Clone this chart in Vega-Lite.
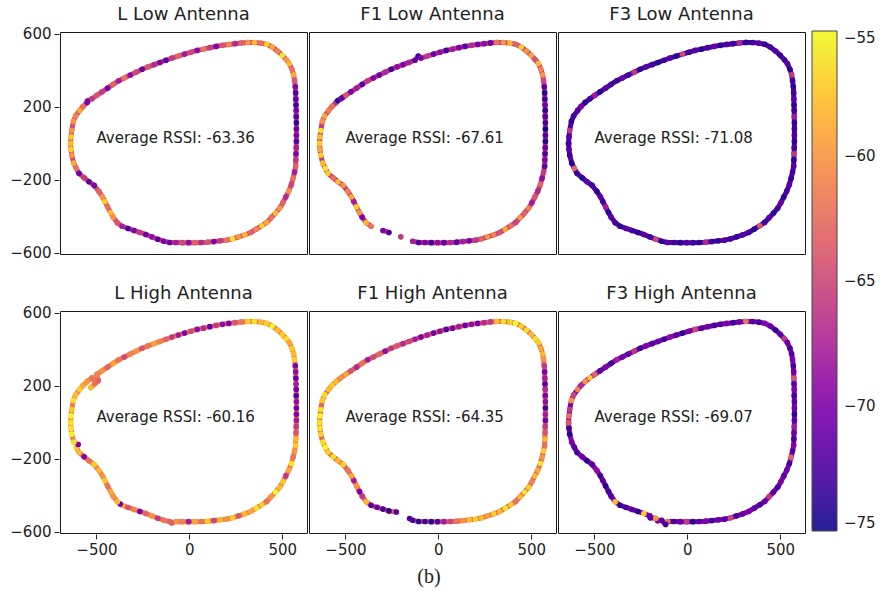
{
"$schema":"https://vega.github.io/schema/vega-lite/v6.json",
"padding":{"left":9,"top":5,"right":5,"bottom":5},
"title":{"text":"(b)","orient":"bottom","anchor":"middle","font":"Liberation Serif","fontSize":20,"fontWeight":"normal","color":"#222","offset":10,"dx":-14},
"data":{"values":[
{"p":"L Low Antenna","x":-639,"y":0,"r":-58},{"p":"L Low Antenna","x":-637,"y":35,"r":-57},{"p":"L Low Antenna","x":-633,"y":70,"r":-60},{"p":"L Low Antenna","x":-624,"y":120,"r":-60},{"p":"L Low Antenna","x":-612,"y":150,"r":-61},{"p":"L Low Antenna","x":-590,"y":180,"r":-59},{"p":"L Low Antenna","x":-572,"y":202,"r":-62},{"p":"L Low Antenna","x":-550,"y":224,"r":-70},{"p":"L Low Antenna","x":-548,"y":232,"r":-70},{"p":"L Low Antenna","x":-524,"y":244,"r":-66},{"p":"L Low Antenna","x":-498,"y":263,"r":-64},
{"p":"L Low Antenna","x":-470,"y":282,"r":-66},{"p":"L Low Antenna","x":-440,"y":302,"r":-70},{"p":"L Low Antenna","x":-410,"y":323,"r":-63},{"p":"L Low Antenna","x":-380,"y":343,"r":-68},{"p":"L Low Antenna","x":-350,"y":358,"r":-62},{"p":"L Low Antenna","x":-318,"y":374,"r":-69},{"p":"L Low Antenna","x":-286,"y":390,"r":-65},{"p":"L Low Antenna","x":-254,"y":406,"r":-71},{"p":"L Low Antenna","x":-222,"y":419,"r":-64},{"p":"L Low Antenna","x":-190,"y":431,"r":-67},
{"p":"L Low Antenna","x":-158,"y":443,"r":-70},{"p":"L Low Antenna","x":-126,"y":455,"r":-72},{"p":"L Low Antenna","x":-94,"y":467,"r":-66},{"p":"L Low Antenna","x":-60,"y":478,"r":-63},{"p":"L Low Antenna","x":-26,"y":489,"r":-68},{"p":"L Low Antenna","x":8,"y":499,"r":-65},{"p":"L Low Antenna","x":42,"y":509,"r":-69},{"p":"L Low Antenna","x":76,"y":516,"r":-62},{"p":"L Low Antenna","x":110,"y":524,"r":-66},{"p":"L Low Antenna","x":144,"y":531,"r":-70},
{"p":"L Low Antenna","x":178,"y":537,"r":-64},{"p":"L Low Antenna","x":212,"y":542,"r":-61},{"p":"L Low Antenna","x":246,"y":546,"r":-67},{"p":"L Low Antenna","x":280,"y":550,"r":-63},{"p":"L Low Antenna","x":315,"y":553,"r":-60},{"p":"L Low Antenna","x":350,"y":552,"r":-58},{"p":"L Low Antenna","x":385,"y":549,"r":-62},{"p":"L Low Antenna","x":416,"y":543,"r":-57},{"p":"L Low Antenna","x":446,"y":528,"r":-59},{"p":"L Low Antenna","x":474,"y":506,"r":-61},
{"p":"L Low Antenna","x":500,"y":482,"r":-56},{"p":"L Low Antenna","x":522,"y":458,"r":-60},{"p":"L Low Antenna","x":538,"y":437,"r":-58},{"p":"L Low Antenna","x":552,"y":406,"r":-62},{"p":"L Low Antenna","x":561,"y":375,"r":-59},{"p":"L Low Antenna","x":566,"y":344,"r":-64},{"p":"L Low Antenna","x":570,"y":310,"r":-70},{"p":"L Low Antenna","x":572,"y":276,"r":-72},{"p":"L Low Antenna","x":573,"y":242,"r":-71},{"p":"L Low Antenna","x":574,"y":210,"r":-73},
{"p":"L Low Antenna","x":575,"y":180,"r":-70},{"p":"L Low Antenna","x":575,"y":146,"r":-72},{"p":"L Low Antenna","x":576,"y":112,"r":-74},{"p":"L Low Antenna","x":576,"y":78,"r":-71},{"p":"L Low Antenna","x":576,"y":44,"r":-70},{"p":"L Low Antenna","x":576,"y":10,"r":-72},{"p":"L Low Antenna","x":575,"y":-24,"r":-68},{"p":"L Low Antenna","x":574,"y":-58,"r":-70},{"p":"L Low Antenna","x":573,"y":-92,"r":-66},{"p":"L Low Antenna","x":572,"y":-126,"r":-63},
{"p":"L Low Antenna","x":566,"y":-158,"r":-68},{"p":"L Low Antenna","x":558,"y":-192,"r":-62},{"p":"L Low Antenna","x":549,"y":-226,"r":-65},{"p":"L Low Antenna","x":535,"y":-262,"r":-60},{"p":"L Low Antenna","x":519,"y":-294,"r":-67},{"p":"L Low Antenna","x":503,"y":-326,"r":-63},{"p":"L Low Antenna","x":486,"y":-356,"r":-60},{"p":"L Low Antenna","x":464,"y":-382,"r":-58},{"p":"L Low Antenna","x":440,"y":-408,"r":-62},{"p":"L Low Antenna","x":416,"y":-434,"r":-59},
{"p":"L Low Antenna","x":390,"y":-452,"r":-57},{"p":"L Low Antenna","x":360,"y":-471,"r":-61},{"p":"L Low Antenna","x":330,"y":-489,"r":-63},{"p":"L Low Antenna","x":298,"y":-502,"r":-58},{"p":"L Low Antenna","x":265,"y":-513,"r":-60},{"p":"L Low Antenna","x":232,"y":-524,"r":-56},{"p":"L Low Antenna","x":200,"y":-531,"r":-62},{"p":"L Low Antenna","x":166,"y":-535,"r":-66},{"p":"L Low Antenna","x":132,"y":-539,"r":-70},{"p":"L Low Antenna","x":98,"y":-542,"r":-64},
{"p":"L Low Antenna","x":64,"y":-544,"r":-67},{"p":"L Low Antenna","x":30,"y":-545,"r":-63},{"p":"L Low Antenna","x":-4,"y":-545,"r":-69},{"p":"L Low Antenna","x":-38,"y":-545,"r":-65},{"p":"L Low Antenna","x":-72,"y":-544,"r":-68},{"p":"L Low Antenna","x":-106,"y":-544,"r":-71},{"p":"L Low Antenna","x":-138,"y":-537,"r":-70},{"p":"L Low Antenna","x":-170,"y":-526,"r":-72},{"p":"L Low Antenna","x":-202,"y":-513,"r":-69},{"p":"L Low Antenna","x":-234,"y":-500,"r":-71},
{"p":"L Low Antenna","x":-266,"y":-489,"r":-66},{"p":"L Low Antenna","x":-298,"y":-478,"r":-70},{"p":"L Low Antenna","x":-330,"y":-467,"r":-73},{"p":"L Low Antenna","x":-362,"y":-455,"r":-68},{"p":"L Low Antenna","x":-388,"y":-436,"r":-64},{"p":"L Low Antenna","x":-410,"y":-405,"r":-60},{"p":"L Low Antenna","x":-424,"y":-380,"r":-58},{"p":"L Low Antenna","x":-440,"y":-349,"r":-62},{"p":"L Low Antenna","x":-455,"y":-319,"r":-57},{"p":"L Low Antenna","x":-468,"y":-293,"r":-60},
{"p":"L Low Antenna","x":-487,"y":-264,"r":-63},{"p":"L Low Antenna","x":-512,"y":-231,"r":-70},{"p":"L Low Antenna","x":-540,"y":-211,"r":-72},{"p":"L Low Antenna","x":-566,"y":-189,"r":-66},{"p":"L Low Antenna","x":-594,"y":-165,"r":-71},{"p":"L Low Antenna","x":-608,"y":-137,"r":-62},{"p":"L Low Antenna","x":-622,"y":-109,"r":-59},{"p":"L Low Antenna","x":-633,"y":-65,"r":-60},{"p":"L Low Antenna","x":-637,"y":-33,"r":-57},{"p":"L Low Antenna","x":-639,"y":-2,"r":-58},

{"p":"F1 Low Antenna","x":-639,"y":0,"r":-57},{"p":"F1 Low Antenna","x":-637,"y":35,"r":-58},{"p":"F1 Low Antenna","x":-633,"y":70,"r":-56},{"p":"F1 Low Antenna","x":-624,"y":120,"r":-60},{"p":"F1 Low Antenna","x":-612,"y":150,"r":-59},{"p":"F1 Low Antenna","x":-590,"y":180,"r":-61},{"p":"F1 Low Antenna","x":-572,"y":202,"r":-62},{"p":"F1 Low Antenna","x":-550,"y":224,"r":-66},{"p":"F1 Low Antenna","x":-541,"y":234,"r":-74},{"p":"F1 Low Antenna","x":-524,"y":244,"r":-70},{"p":"F1 Low Antenna","x":-514,"y":252,"r":-72},{"p":"F1 Low Antenna","x":-498,"y":263,"r":-64},
{"p":"F1 Low Antenna","x":-470,"y":282,"r":-70},{"p":"F1 Low Antenna","x":-440,"y":302,"r":-68},{"p":"F1 Low Antenna","x":-410,"y":323,"r":-72},{"p":"F1 Low Antenna","x":-380,"y":343,"r":-66},{"p":"F1 Low Antenna","x":-350,"y":358,"r":-70},{"p":"F1 Low Antenna","x":-318,"y":374,"r":-71},{"p":"F1 Low Antenna","x":-286,"y":390,"r":-67},{"p":"F1 Low Antenna","x":-254,"y":406,"r":-73},{"p":"F1 Low Antenna","x":-222,"y":419,"r":-69},{"p":"F1 Low Antenna","x":-190,"y":431,"r":-70},
{"p":"F1 Low Antenna","x":-158,"y":443,"r":-68},{"p":"F1 Low Antenna","x":-126,"y":455,"r":-72},{"p":"F1 Low Antenna","x":-108,"y":478,"r":-73},{"p":"F1 Low Antenna","x":-94,"y":467,"r":-70},{"p":"F1 Low Antenna","x":-60,"y":478,"r":-66},{"p":"F1 Low Antenna","x":-26,"y":489,"r":-71},{"p":"F1 Low Antenna","x":8,"y":499,"r":-69},{"p":"F1 Low Antenna","x":42,"y":509,"r":-73},{"p":"F1 Low Antenna","x":76,"y":516,"r":-68},{"p":"F1 Low Antenna","x":110,"y":524,"r":-70},{"p":"F1 Low Antenna","x":144,"y":531,"r":-72},
{"p":"F1 Low Antenna","x":178,"y":537,"r":-67},{"p":"F1 Low Antenna","x":212,"y":542,"r":-70},{"p":"F1 Low Antenna","x":246,"y":546,"r":-69},{"p":"F1 Low Antenna","x":280,"y":550,"r":-71},{"p":"F1 Low Antenna","x":315,"y":553,"r":-62},{"p":"F1 Low Antenna","x":350,"y":552,"r":-60},{"p":"F1 Low Antenna","x":385,"y":549,"r":-58},{"p":"F1 Low Antenna","x":416,"y":543,"r":-63},{"p":"F1 Low Antenna","x":446,"y":528,"r":-57},{"p":"F1 Low Antenna","x":474,"y":506,"r":-60},
{"p":"F1 Low Antenna","x":500,"y":482,"r":-59},{"p":"F1 Low Antenna","x":522,"y":458,"r":-64},{"p":"F1 Low Antenna","x":538,"y":437,"r":-58},{"p":"F1 Low Antenna","x":552,"y":406,"r":-61},{"p":"F1 Low Antenna","x":561,"y":375,"r":-60},{"p":"F1 Low Antenna","x":566,"y":344,"r":-65},{"p":"F1 Low Antenna","x":570,"y":310,"r":-72},{"p":"F1 Low Antenna","x":572,"y":276,"r":-74},{"p":"F1 Low Antenna","x":573,"y":242,"r":-73},{"p":"F1 Low Antenna","x":574,"y":210,"r":-71},
{"p":"F1 Low Antenna","x":575,"y":180,"r":-74},{"p":"F1 Low Antenna","x":575,"y":146,"r":-72},{"p":"F1 Low Antenna","x":576,"y":112,"r":-73},{"p":"F1 Low Antenna","x":576,"y":78,"r":-75},{"p":"F1 Low Antenna","x":576,"y":44,"r":-72},{"p":"F1 Low Antenna","x":576,"y":10,"r":-74},{"p":"F1 Low Antenna","x":575,"y":-24,"r":-71},{"p":"F1 Low Antenna","x":574,"y":-58,"r":-73},{"p":"F1 Low Antenna","x":573,"y":-92,"r":-70},{"p":"F1 Low Antenna","x":572,"y":-126,"r":-72},
{"p":"F1 Low Antenna","x":566,"y":-158,"r":-66},{"p":"F1 Low Antenna","x":558,"y":-192,"r":-69},{"p":"F1 Low Antenna","x":549,"y":-226,"r":-63},{"p":"F1 Low Antenna","x":535,"y":-262,"r":-67},{"p":"F1 Low Antenna","x":519,"y":-294,"r":-64},{"p":"F1 Low Antenna","x":503,"y":-326,"r":-68},{"p":"F1 Low Antenna","x":486,"y":-356,"r":-61},{"p":"F1 Low Antenna","x":464,"y":-382,"r":-63},{"p":"F1 Low Antenna","x":440,"y":-408,"r":-60},{"p":"F1 Low Antenna","x":416,"y":-434,"r":-65},
{"p":"F1 Low Antenna","x":390,"y":-452,"r":-62},{"p":"F1 Low Antenna","x":360,"y":-471,"r":-59},{"p":"F1 Low Antenna","x":330,"y":-489,"r":-64},{"p":"F1 Low Antenna","x":298,"y":-502,"r":-61},{"p":"F1 Low Antenna","x":265,"y":-513,"r":-60},{"p":"F1 Low Antenna","x":232,"y":-524,"r":-63},{"p":"F1 Low Antenna","x":200,"y":-531,"r":-66},{"p":"F1 Low Antenna","x":166,"y":-535,"r":-70},{"p":"F1 Low Antenna","x":132,"y":-539,"r":-68},{"p":"F1 Low Antenna","x":98,"y":-542,"r":-72},
{"p":"F1 Low Antenna","x":64,"y":-544,"r":-67},{"p":"F1 Low Antenna","x":30,"y":-545,"r":-71},{"p":"F1 Low Antenna","x":-4,"y":-545,"r":-69},{"p":"F1 Low Antenna","x":-38,"y":-545,"r":-73},{"p":"F1 Low Antenna","x":-72,"y":-544,"r":-70},{"p":"F1 Low Antenna","x":-106,"y":-544,"r":-72},{"p":"F1 Low Antenna","x":-138,"y":-537,"r":-68},{"p":"F1 Low Antenna","x":null,"y":null,"r":null},{"p":"F1 Low Antenna","x":-202,"y":-513,"r":-66},{"p":"F1 Low Antenna","x":null,"y":null,"r":null},
{"p":"F1 Low Antenna","x":-266,"y":-489,"r":-73},{"p":"F1 Low Antenna","x":-298,"y":-478,"r":-70},{"p":"F1 Low Antenna","x":null,"y":null,"r":null},{"p":"F1 Low Antenna","x":-362,"y":-455,"r":-62},{"p":"F1 Low Antenna","x":-388,"y":-436,"r":-58},{"p":"F1 Low Antenna","x":-410,"y":-405,"r":-70},{"p":"F1 Low Antenna","x":-424,"y":-380,"r":-60},{"p":"F1 Low Antenna","x":-440,"y":-349,"r":-57},{"p":"F1 Low Antenna","x":-455,"y":-319,"r":-68},{"p":"F1 Low Antenna","x":-468,"y":-293,"r":-59},
{"p":"F1 Low Antenna","x":-487,"y":-264,"r":-61},{"p":"F1 Low Antenna","x":-512,"y":-231,"r":-60},{"p":"F1 Low Antenna","x":-540,"y":-211,"r":-58},{"p":"F1 Low Antenna","x":-566,"y":-189,"r":-62},{"p":"F1 Low Antenna","x":-594,"y":-165,"r":-57},{"p":"F1 Low Antenna","x":-608,"y":-137,"r":-56},{"p":"F1 Low Antenna","x":-622,"y":-109,"r":-58},{"p":"F1 Low Antenna","x":-633,"y":-65,"r":-57},{"p":"F1 Low Antenna","x":-637,"y":-33,"r":-59},{"p":"F1 Low Antenna","x":-639,"y":-2,"r":-57},

{"p":"F3 Low Antenna","x":-639,"y":0,"r":-73},{"p":"F3 Low Antenna","x":-637,"y":35,"r":-72},{"p":"F3 Low Antenna","x":-633,"y":70,"r":-66},{"p":"F3 Low Antenna","x":-624,"y":120,"r":-74},{"p":"F3 Low Antenna","x":-612,"y":150,"r":-73},{"p":"F3 Low Antenna","x":-590,"y":180,"r":-72},{"p":"F3 Low Antenna","x":-572,"y":202,"r":-70},{"p":"F3 Low Antenna","x":-550,"y":224,"r":-74},{"p":"F3 Low Antenna","x":-524,"y":244,"r":-73},{"p":"F3 Low Antenna","x":-498,"y":263,"r":-68},
{"p":"F3 Low Antenna","x":-470,"y":282,"r":-74},{"p":"F3 Low Antenna","x":-440,"y":302,"r":-72},{"p":"F3 Low Antenna","x":-410,"y":323,"r":-73},{"p":"F3 Low Antenna","x":-380,"y":343,"r":-74},{"p":"F3 Low Antenna","x":-350,"y":358,"r":-71},{"p":"F3 Low Antenna","x":-318,"y":374,"r":-73},{"p":"F3 Low Antenna","x":-286,"y":390,"r":-66},{"p":"F3 Low Antenna","x":-254,"y":406,"r":-74},{"p":"F3 Low Antenna","x":-222,"y":419,"r":-72},{"p":"F3 Low Antenna","x":-190,"y":431,"r":-73},
{"p":"F3 Low Antenna","x":-158,"y":443,"r":-74},{"p":"F3 Low Antenna","x":-126,"y":455,"r":-73},{"p":"F3 Low Antenna","x":-94,"y":467,"r":-72},{"p":"F3 Low Antenna","x":-60,"y":478,"r":-74},{"p":"F3 Low Antenna","x":-26,"y":489,"r":-65},{"p":"F3 Low Antenna","x":8,"y":499,"r":-73},{"p":"F3 Low Antenna","x":42,"y":509,"r":-72},{"p":"F3 Low Antenna","x":76,"y":516,"r":-74},{"p":"F3 Low Antenna","x":110,"y":524,"r":-73},{"p":"F3 Low Antenna","x":144,"y":531,"r":-71},
{"p":"F3 Low Antenna","x":178,"y":537,"r":-74},{"p":"F3 Low Antenna","x":212,"y":542,"r":-72},{"p":"F3 Low Antenna","x":246,"y":546,"r":-73},{"p":"F3 Low Antenna","x":280,"y":550,"r":-67},{"p":"F3 Low Antenna","x":315,"y":553,"r":-74},{"p":"F3 Low Antenna","x":350,"y":552,"r":-73},{"p":"F3 Low Antenna","x":385,"y":549,"r":-72},{"p":"F3 Low Antenna","x":416,"y":543,"r":-74},{"p":"F3 Low Antenna","x":446,"y":528,"r":-73},{"p":"F3 Low Antenna","x":474,"y":506,"r":-72},
{"p":"F3 Low Antenna","x":500,"y":482,"r":-74},{"p":"F3 Low Antenna","x":522,"y":458,"r":-73},{"p":"F3 Low Antenna","x":538,"y":437,"r":-72},{"p":"F3 Low Antenna","x":552,"y":406,"r":-74},{"p":"F3 Low Antenna","x":561,"y":375,"r":-66},{"p":"F3 Low Antenna","x":566,"y":344,"r":-73},{"p":"F3 Low Antenna","x":570,"y":310,"r":-74},{"p":"F3 Low Antenna","x":572,"y":276,"r":-73},{"p":"F3 Low Antenna","x":573,"y":242,"r":-72},{"p":"F3 Low Antenna","x":574,"y":210,"r":-74},
{"p":"F3 Low Antenna","x":575,"y":180,"r":-73},{"p":"F3 Low Antenna","x":575,"y":146,"r":-68},{"p":"F3 Low Antenna","x":576,"y":112,"r":-74},{"p":"F3 Low Antenna","x":576,"y":78,"r":-73},{"p":"F3 Low Antenna","x":576,"y":44,"r":-72},{"p":"F3 Low Antenna","x":576,"y":10,"r":-74},{"p":"F3 Low Antenna","x":575,"y":-24,"r":-73},{"p":"F3 Low Antenna","x":574,"y":-58,"r":-66},{"p":"F3 Low Antenna","x":573,"y":-92,"r":-74},{"p":"F3 Low Antenna","x":572,"y":-126,"r":-72},
{"p":"F3 Low Antenna","x":566,"y":-158,"r":-73},{"p":"F3 Low Antenna","x":558,"y":-192,"r":-74},{"p":"F3 Low Antenna","x":549,"y":-226,"r":-72},{"p":"F3 Low Antenna","x":535,"y":-262,"r":-73},{"p":"F3 Low Antenna","x":519,"y":-294,"r":-74},{"p":"F3 Low Antenna","x":503,"y":-326,"r":-71},{"p":"F3 Low Antenna","x":486,"y":-356,"r":-73},{"p":"F3 Low Antenna","x":464,"y":-382,"r":-74},{"p":"F3 Low Antenna","x":440,"y":-408,"r":-72},{"p":"F3 Low Antenna","x":416,"y":-434,"r":-73},
{"p":"F3 Low Antenna","x":390,"y":-452,"r":-64},{"p":"F3 Low Antenna","x":360,"y":-471,"r":-74},{"p":"F3 Low Antenna","x":330,"y":-489,"r":-73},{"p":"F3 Low Antenna","x":298,"y":-502,"r":-72},{"p":"F3 Low Antenna","x":265,"y":-513,"r":-74},{"p":"F3 Low Antenna","x":232,"y":-524,"r":-73},{"p":"F3 Low Antenna","x":200,"y":-531,"r":-72},{"p":"F3 Low Antenna","x":166,"y":-535,"r":-74},{"p":"F3 Low Antenna","x":132,"y":-539,"r":-73},{"p":"F3 Low Antenna","x":98,"y":-542,"r":-67},
{"p":"F3 Low Antenna","x":64,"y":-544,"r":-74},{"p":"F3 Low Antenna","x":30,"y":-545,"r":-73},{"p":"F3 Low Antenna","x":-4,"y":-545,"r":-72},{"p":"F3 Low Antenna","x":-38,"y":-545,"r":-74},{"p":"F3 Low Antenna","x":-72,"y":-544,"r":-73},{"p":"F3 Low Antenna","x":-106,"y":-544,"r":-72},{"p":"F3 Low Antenna","x":-138,"y":-537,"r":-74},{"p":"F3 Low Antenna","x":-170,"y":-526,"r":-65},{"p":"F3 Low Antenna","x":-202,"y":-513,"r":-73},{"p":"F3 Low Antenna","x":-234,"y":-500,"r":-72},
{"p":"F3 Low Antenna","x":-266,"y":-489,"r":-74},{"p":"F3 Low Antenna","x":-298,"y":-478,"r":-73},{"p":"F3 Low Antenna","x":-330,"y":-467,"r":-72},{"p":"F3 Low Antenna","x":-362,"y":-455,"r":-74},{"p":"F3 Low Antenna","x":-388,"y":-436,"r":-73},{"p":"F3 Low Antenna","x":-410,"y":-405,"r":-72},{"p":"F3 Low Antenna","x":-424,"y":-380,"r":-74},{"p":"F3 Low Antenna","x":-440,"y":-349,"r":-68},{"p":"F3 Low Antenna","x":-455,"y":-319,"r":-73},{"p":"F3 Low Antenna","x":-468,"y":-293,"r":-72},
{"p":"F3 Low Antenna","x":-487,"y":-264,"r":-74},{"p":"F3 Low Antenna","x":-512,"y":-231,"r":-73},{"p":"F3 Low Antenna","x":-540,"y":-211,"r":-72},{"p":"F3 Low Antenna","x":-566,"y":-189,"r":-74},{"p":"F3 Low Antenna","x":-594,"y":-165,"r":-73},{"p":"F3 Low Antenna","x":-608,"y":-137,"r":-63},{"p":"F3 Low Antenna","x":-622,"y":-109,"r":-74},{"p":"F3 Low Antenna","x":-633,"y":-65,"r":-73},{"p":"F3 Low Antenna","x":-637,"y":-33,"r":-72},{"p":"F3 Low Antenna","x":-639,"y":-2,"r":-73},

{"p":"L High Antenna","x":-639,"y":0,"r":-56},{"p":"L High Antenna","x":-637,"y":35,"r":-55},{"p":"L High Antenna","x":-633,"y":70,"r":-57},{"p":"L High Antenna","x":-624,"y":120,"r":-56},{"p":"L High Antenna","x":-612,"y":150,"r":-58},{"p":"L High Antenna","x":-590,"y":180,"r":-57},{"p":"L High Antenna","x":-572,"y":202,"r":-59},{"p":"L High Antenna","x":-550,"y":224,"r":-60},{"p":"L High Antenna","x":-524,"y":244,"r":-62},{"p":"L High Antenna","x":-505,"y":215,"r":-62},{"p":"L High Antenna","x":-530,"y":190,"r":-58},{"p":"L High Antenna","x":-490,"y":228,"r":-63},{"p":"L High Antenna","x":-498,"y":263,"r":-61},
{"p":"L High Antenna","x":-470,"y":282,"r":-60},{"p":"L High Antenna","x":-440,"y":302,"r":-63},{"p":"L High Antenna","x":-410,"y":323,"r":-59},{"p":"L High Antenna","x":-380,"y":343,"r":-62},{"p":"L High Antenna","x":-350,"y":358,"r":-65},{"p":"L High Antenna","x":-318,"y":374,"r":-61},{"p":"L High Antenna","x":-286,"y":390,"r":-60},{"p":"L High Antenna","x":-254,"y":406,"r":-64},{"p":"L High Antenna","x":-222,"y":419,"r":-62},{"p":"L High Antenna","x":-190,"y":431,"r":-59},
{"p":"L High Antenna","x":-158,"y":443,"r":-61},{"p":"L High Antenna","x":-126,"y":455,"r":-63},{"p":"L High Antenna","x":-94,"y":467,"r":-66},{"p":"L High Antenna","x":-60,"y":478,"r":-68},{"p":"L High Antenna","x":-26,"y":489,"r":-70},{"p":"L High Antenna","x":8,"y":499,"r":-65},{"p":"L High Antenna","x":42,"y":509,"r":-69},{"p":"L High Antenna","x":76,"y":516,"r":-67},{"p":"L High Antenna","x":110,"y":524,"r":-71},{"p":"L High Antenna","x":144,"y":531,"r":-66},
{"p":"L High Antenna","x":178,"y":537,"r":-69},{"p":"L High Antenna","x":212,"y":542,"r":-70},{"p":"L High Antenna","x":246,"y":546,"r":-64},{"p":"L High Antenna","x":280,"y":550,"r":-62},{"p":"L High Antenna","x":315,"y":553,"r":-57},{"p":"L High Antenna","x":350,"y":552,"r":-56},{"p":"L High Antenna","x":385,"y":549,"r":-58},{"p":"L High Antenna","x":416,"y":543,"r":-57},{"p":"L High Antenna","x":446,"y":528,"r":-55},{"p":"L High Antenna","x":474,"y":506,"r":-58},
{"p":"L High Antenna","x":500,"y":482,"r":-57},{"p":"L High Antenna","x":522,"y":458,"r":-56},{"p":"L High Antenna","x":538,"y":437,"r":-59},{"p":"L High Antenna","x":552,"y":406,"r":-57},{"p":"L High Antenna","x":561,"y":375,"r":-58},{"p":"L High Antenna","x":566,"y":344,"r":-57},{"p":"L High Antenna","x":570,"y":310,"r":-70},{"p":"L High Antenna","x":572,"y":276,"r":-69},{"p":"L High Antenna","x":573,"y":242,"r":-71},{"p":"L High Antenna","x":574,"y":210,"r":-68},
{"p":"L High Antenna","x":575,"y":180,"r":-70},{"p":"L High Antenna","x":575,"y":146,"r":-72},{"p":"L High Antenna","x":576,"y":112,"r":-69},{"p":"L High Antenna","x":576,"y":78,"r":-71},{"p":"L High Antenna","x":576,"y":44,"r":-70},{"p":"L High Antenna","x":576,"y":10,"r":-68},{"p":"L High Antenna","x":575,"y":-24,"r":-66},{"p":"L High Antenna","x":574,"y":-58,"r":-64},{"p":"L High Antenna","x":573,"y":-92,"r":-58},{"p":"L High Antenna","x":572,"y":-126,"r":-57},
{"p":"L High Antenna","x":566,"y":-158,"r":-60},{"p":"L High Antenna","x":558,"y":-192,"r":-62},{"p":"L High Antenna","x":549,"y":-226,"r":-56},{"p":"L High Antenna","x":535,"y":-262,"r":-59},{"p":"L High Antenna","x":519,"y":-294,"r":-66},{"p":"L High Antenna","x":503,"y":-326,"r":-57},{"p":"L High Antenna","x":486,"y":-356,"r":-58},{"p":"L High Antenna","x":464,"y":-382,"r":-55},{"p":"L High Antenna","x":440,"y":-408,"r":-60},{"p":"L High Antenna","x":416,"y":-434,"r":-62},
{"p":"L High Antenna","x":390,"y":-452,"r":-57},{"p":"L High Antenna","x":360,"y":-471,"r":-56},{"p":"L High Antenna","x":330,"y":-489,"r":-59},{"p":"L High Antenna","x":298,"y":-502,"r":-58},{"p":"L High Antenna","x":265,"y":-513,"r":-64},{"p":"L High Antenna","x":232,"y":-524,"r":-57},{"p":"L High Antenna","x":200,"y":-531,"r":-60},{"p":"L High Antenna","x":166,"y":-535,"r":-58},{"p":"L High Antenna","x":132,"y":-539,"r":-65},{"p":"L High Antenna","x":98,"y":-542,"r":-57},
{"p":"L High Antenna","x":64,"y":-544,"r":-62},{"p":"L High Antenna","x":30,"y":-545,"r":-59},{"p":"L High Antenna","x":-4,"y":-545,"r":-68},{"p":"L High Antenna","x":-38,"y":-545,"r":-61},{"p":"L High Antenna","x":-72,"y":-544,"r":-60},{"p":"L High Antenna","x":-95,"y":-552,"r":-63},{"p":"L High Antenna","x":-106,"y":-544,"r":-63},{"p":"L High Antenna","x":-138,"y":-537,"r":-62},{"p":"L High Antenna","x":-170,"y":-526,"r":-66},{"p":"L High Antenna","x":-202,"y":-513,"r":-60},{"p":"L High Antenna","x":-234,"y":-500,"r":-63},
{"p":"L High Antenna","x":-266,"y":-489,"r":-70},{"p":"L High Antenna","x":-298,"y":-478,"r":-61},{"p":"L High Antenna","x":-330,"y":-467,"r":-64},{"p":"L High Antenna","x":-362,"y":-455,"r":-59},{"p":"L High Antenna","x":-372,"y":-448,"r":-71},{"p":"L High Antenna","x":-388,"y":-436,"r":-58},{"p":"L High Antenna","x":-410,"y":-405,"r":-60},{"p":"L High Antenna","x":-424,"y":-380,"r":-59},{"p":"L High Antenna","x":-440,"y":-349,"r":-62},{"p":"L High Antenna","x":-455,"y":-319,"r":-57},{"p":"L High Antenna","x":-468,"y":-293,"r":-60},
{"p":"L High Antenna","x":-487,"y":-264,"r":-58},{"p":"L High Antenna","x":-512,"y":-231,"r":-57},{"p":"L High Antenna","x":-540,"y":-211,"r":-62},{"p":"L High Antenna","x":-566,"y":-189,"r":-70},{"p":"L High Antenna","x":-594,"y":-165,"r":-58},{"p":"L High Antenna","x":-608,"y":-137,"r":-57},{"p":"L High Antenna","x":-598,"y":-122,"r":-70},{"p":"L High Antenna","x":-622,"y":-109,"r":-56},{"p":"L High Antenna","x":-633,"y":-65,"r":-55},{"p":"L High Antenna","x":-637,"y":-33,"r":-56},{"p":"L High Antenna","x":-639,"y":-2,"r":-56},

{"p":"F1 High Antenna","x":-639,"y":0,"r":-56},{"p":"F1 High Antenna","x":-637,"y":35,"r":-55},{"p":"F1 High Antenna","x":-633,"y":70,"r":-56},{"p":"F1 High Antenna","x":-624,"y":120,"r":-57},{"p":"F1 High Antenna","x":-612,"y":150,"r":-56},{"p":"F1 High Antenna","x":-590,"y":180,"r":-58},{"p":"F1 High Antenna","x":-572,"y":202,"r":-57},{"p":"F1 High Antenna","x":-550,"y":224,"r":-58},{"p":"F1 High Antenna","x":-524,"y":244,"r":-60},{"p":"F1 High Antenna","x":-498,"y":263,"r":-59},
{"p":"F1 High Antenna","x":-470,"y":282,"r":-64},{"p":"F1 High Antenna","x":-440,"y":302,"r":-67},{"p":"F1 High Antenna","x":-410,"y":323,"r":-62},{"p":"F1 High Antenna","x":-380,"y":343,"r":-68},{"p":"F1 High Antenna","x":-350,"y":358,"r":-65},{"p":"F1 High Antenna","x":-318,"y":374,"r":-63},{"p":"F1 High Antenna","x":-286,"y":390,"r":-69},{"p":"F1 High Antenna","x":-254,"y":406,"r":-66},{"p":"F1 High Antenna","x":-222,"y":419,"r":-64},{"p":"F1 High Antenna","x":-190,"y":431,"r":-67},
{"p":"F1 High Antenna","x":-158,"y":443,"r":-65},{"p":"F1 High Antenna","x":-126,"y":455,"r":-68},{"p":"F1 High Antenna","x":-94,"y":467,"r":-70},{"p":"F1 High Antenna","x":-60,"y":478,"r":-68},{"p":"F1 High Antenna","x":-26,"y":489,"r":-71},{"p":"F1 High Antenna","x":8,"y":499,"r":-69},{"p":"F1 High Antenna","x":42,"y":509,"r":-72},{"p":"F1 High Antenna","x":76,"y":516,"r":-70},{"p":"F1 High Antenna","x":110,"y":524,"r":-68},{"p":"F1 High Antenna","x":144,"y":531,"r":-71},
{"p":"F1 High Antenna","x":178,"y":537,"r":-69},{"p":"F1 High Antenna","x":212,"y":542,"r":-70},{"p":"F1 High Antenna","x":246,"y":546,"r":-67},{"p":"F1 High Antenna","x":280,"y":550,"r":-66},{"p":"F1 High Antenna","x":315,"y":553,"r":-58},{"p":"F1 High Antenna","x":350,"y":552,"r":-56},{"p":"F1 High Antenna","x":385,"y":549,"r":-57},{"p":"F1 High Antenna","x":416,"y":543,"r":-55},{"p":"F1 High Antenna","x":446,"y":528,"r":-57},{"p":"F1 High Antenna","x":474,"y":506,"r":-56},
{"p":"F1 High Antenna","x":500,"y":482,"r":-58},{"p":"F1 High Antenna","x":522,"y":458,"r":-56},{"p":"F1 High Antenna","x":538,"y":437,"r":-57},{"p":"F1 High Antenna","x":552,"y":406,"r":-59},{"p":"F1 High Antenna","x":561,"y":375,"r":-58},{"p":"F1 High Antenna","x":566,"y":344,"r":-60},{"p":"F1 High Antenna","x":570,"y":310,"r":-66},{"p":"F1 High Antenna","x":572,"y":276,"r":-70},{"p":"F1 High Antenna","x":573,"y":242,"r":-68},{"p":"F1 High Antenna","x":574,"y":210,"r":-72},
{"p":"F1 High Antenna","x":575,"y":180,"r":-67},{"p":"F1 High Antenna","x":575,"y":146,"r":-70},{"p":"F1 High Antenna","x":576,"y":112,"r":-69},{"p":"F1 High Antenna","x":576,"y":78,"r":-73},{"p":"F1 High Antenna","x":576,"y":44,"r":-68},{"p":"F1 High Antenna","x":576,"y":10,"r":-71},{"p":"F1 High Antenna","x":575,"y":-24,"r":-66},{"p":"F1 High Antenna","x":574,"y":-58,"r":-64},{"p":"F1 High Antenna","x":573,"y":-92,"r":-58},{"p":"F1 High Antenna","x":572,"y":-126,"r":-62},
{"p":"F1 High Antenna","x":566,"y":-158,"r":-57},{"p":"F1 High Antenna","x":558,"y":-192,"r":-60},{"p":"F1 High Antenna","x":549,"y":-226,"r":-56},{"p":"F1 High Antenna","x":535,"y":-262,"r":-59},{"p":"F1 High Antenna","x":519,"y":-294,"r":-58},{"p":"F1 High Antenna","x":503,"y":-326,"r":-61},{"p":"F1 High Antenna","x":486,"y":-356,"r":-57},{"p":"F1 High Antenna","x":464,"y":-382,"r":-56},{"p":"F1 High Antenna","x":440,"y":-408,"r":-58},{"p":"F1 High Antenna","x":416,"y":-434,"r":-62},
{"p":"F1 High Antenna","x":390,"y":-452,"r":-57},{"p":"F1 High Antenna","x":360,"y":-471,"r":-56},{"p":"F1 High Antenna","x":330,"y":-489,"r":-58},{"p":"F1 High Antenna","x":298,"y":-502,"r":-57},{"p":"F1 High Antenna","x":265,"y":-513,"r":-59},{"p":"F1 High Antenna","x":232,"y":-524,"r":-58},{"p":"F1 High Antenna","x":200,"y":-531,"r":-57},{"p":"F1 High Antenna","x":166,"y":-535,"r":-58},{"p":"F1 High Antenna","x":132,"y":-539,"r":-60},{"p":"F1 High Antenna","x":98,"y":-542,"r":-62},
{"p":"F1 High Antenna","x":64,"y":-544,"r":-65},{"p":"F1 High Antenna","x":30,"y":-545,"r":-68},{"p":"F1 High Antenna","x":-4,"y":-545,"r":-72},{"p":"F1 High Antenna","x":-38,"y":-545,"r":-74},{"p":"F1 High Antenna","x":-72,"y":-544,"r":-73},{"p":"F1 High Antenna","x":-106,"y":-544,"r":-74},{"p":"F1 High Antenna","x":-138,"y":-537,"r":-73},{"p":"F1 High Antenna","x":-155,"y":-528,"r":-72},{"p":"F1 High Antenna","x":null,"y":null,"r":null},{"p":"F1 High Antenna","x":-226,"y":-492,"r":-72},
{"p":"F1 High Antenna","x":-266,"y":-486,"r":-74},{"p":"F1 High Antenna","x":-298,"y":-476,"r":-73},{"p":"F1 High Antenna","x":-330,"y":-466,"r":-71},{"p":"F1 High Antenna","x":-362,"y":-455,"r":-72},{"p":"F1 High Antenna","x":-388,"y":-436,"r":-58},{"p":"F1 High Antenna","x":-410,"y":-405,"r":-66},{"p":"F1 High Antenna","x":-424,"y":-380,"r":-70},{"p":"F1 High Antenna","x":-440,"y":-349,"r":-60},{"p":"F1 High Antenna","x":-455,"y":-319,"r":-68},{"p":"F1 High Antenna","x":-468,"y":-293,"r":-59},
{"p":"F1 High Antenna","x":-487,"y":-264,"r":-62},{"p":"F1 High Antenna","x":-512,"y":-231,"r":-57},{"p":"F1 High Antenna","x":-540,"y":-211,"r":-58},{"p":"F1 High Antenna","x":-566,"y":-189,"r":-56},{"p":"F1 High Antenna","x":-594,"y":-165,"r":-57},{"p":"F1 High Antenna","x":-608,"y":-137,"r":-55},{"p":"F1 High Antenna","x":-622,"y":-109,"r":-56},{"p":"F1 High Antenna","x":-633,"y":-65,"r":-57},{"p":"F1 High Antenna","x":-637,"y":-33,"r":-56},{"p":"F1 High Antenna","x":-639,"y":-2,"r":-56},

{"p":"F3 High Antenna","x":-639,"y":0,"r":-64},{"p":"F3 High Antenna","x":-637,"y":35,"r":-62},{"p":"F3 High Antenna","x":-633,"y":70,"r":-66},{"p":"F3 High Antenna","x":-624,"y":120,"r":-60},{"p":"F3 High Antenna","x":-612,"y":150,"r":-65},{"p":"F3 High Antenna","x":-590,"y":180,"r":-61},{"p":"F3 High Antenna","x":-572,"y":202,"r":-67},{"p":"F3 High Antenna","x":-550,"y":224,"r":-60},{"p":"F3 High Antenna","x":-524,"y":244,"r":-57},{"p":"F3 High Antenna","x":-498,"y":263,"r":-63},
{"p":"F3 High Antenna","x":-470,"y":282,"r":-72},{"p":"F3 High Antenna","x":-440,"y":302,"r":-70},{"p":"F3 High Antenna","x":-410,"y":323,"r":-73},{"p":"F3 High Antenna","x":-380,"y":343,"r":-68},{"p":"F3 High Antenna","x":-350,"y":358,"r":-71},{"p":"F3 High Antenna","x":-318,"y":374,"r":-72},{"p":"F3 High Antenna","x":-286,"y":390,"r":-66},{"p":"F3 High Antenna","x":-254,"y":406,"r":-73},{"p":"F3 High Antenna","x":-222,"y":419,"r":-70},{"p":"F3 High Antenna","x":-190,"y":431,"r":-72},
{"p":"F3 High Antenna","x":-158,"y":443,"r":-71},{"p":"F3 High Antenna","x":-126,"y":455,"r":-73},{"p":"F3 High Antenna","x":-94,"y":467,"r":-69},{"p":"F3 High Antenna","x":-60,"y":478,"r":-72},{"p":"F3 High Antenna","x":-26,"y":489,"r":-74},{"p":"F3 High Antenna","x":8,"y":499,"r":-70},{"p":"F3 High Antenna","x":42,"y":509,"r":-65},{"p":"F3 High Antenna","x":76,"y":516,"r":-72},{"p":"F3 High Antenna","x":110,"y":524,"r":-71},{"p":"F3 High Antenna","x":144,"y":531,"r":-73},
{"p":"F3 High Antenna","x":178,"y":537,"r":-72},{"p":"F3 High Antenna","x":212,"y":542,"r":-70},{"p":"F3 High Antenna","x":246,"y":546,"r":-73},{"p":"F3 High Antenna","x":280,"y":550,"r":-71},{"p":"F3 High Antenna","x":315,"y":553,"r":-62},{"p":"F3 High Antenna","x":350,"y":552,"r":-72},{"p":"F3 High Antenna","x":385,"y":549,"r":-73},{"p":"F3 High Antenna","x":416,"y":543,"r":-70},{"p":"F3 High Antenna","x":446,"y":528,"r":-71},{"p":"F3 High Antenna","x":474,"y":506,"r":-74},
{"p":"F3 High Antenna","x":500,"y":482,"r":-72},{"p":"F3 High Antenna","x":522,"y":458,"r":-66},{"p":"F3 High Antenna","x":538,"y":437,"r":-71},{"p":"F3 High Antenna","x":552,"y":406,"r":-73},{"p":"F3 High Antenna","x":561,"y":375,"r":-72},{"p":"F3 High Antenna","x":566,"y":344,"r":-70},{"p":"F3 High Antenna","x":570,"y":310,"r":-73},{"p":"F3 High Antenna","x":572,"y":276,"r":-71},{"p":"F3 High Antenna","x":573,"y":242,"r":-64},{"p":"F3 High Antenna","x":574,"y":210,"r":-72},
{"p":"F3 High Antenna","x":575,"y":180,"r":-70},{"p":"F3 High Antenna","x":575,"y":146,"r":-73},{"p":"F3 High Antenna","x":576,"y":112,"r":-72},{"p":"F3 High Antenna","x":576,"y":78,"r":-71},{"p":"F3 High Antenna","x":576,"y":44,"r":-74},{"p":"F3 High Antenna","x":576,"y":10,"r":-72},{"p":"F3 High Antenna","x":575,"y":-24,"r":-68},{"p":"F3 High Antenna","x":574,"y":-58,"r":-71},{"p":"F3 High Antenna","x":573,"y":-92,"r":-73},{"p":"F3 High Antenna","x":572,"y":-126,"r":-70},
{"p":"F3 High Antenna","x":566,"y":-158,"r":-72},{"p":"F3 High Antenna","x":558,"y":-192,"r":-63},{"p":"F3 High Antenna","x":549,"y":-226,"r":-73},{"p":"F3 High Antenna","x":535,"y":-262,"r":-71},{"p":"F3 High Antenna","x":519,"y":-294,"r":-72},{"p":"F3 High Antenna","x":503,"y":-326,"r":-70},{"p":"F3 High Antenna","x":486,"y":-356,"r":-73},{"p":"F3 High Antenna","x":464,"y":-382,"r":-72},{"p":"F3 High Antenna","x":440,"y":-408,"r":-66},{"p":"F3 High Antenna","x":416,"y":-434,"r":-71},
{"p":"F3 High Antenna","x":390,"y":-452,"r":-73},{"p":"F3 High Antenna","x":360,"y":-471,"r":-72},{"p":"F3 High Antenna","x":330,"y":-489,"r":-70},{"p":"F3 High Antenna","x":298,"y":-502,"r":-71},{"p":"F3 High Antenna","x":265,"y":-513,"r":-73},{"p":"F3 High Antenna","x":232,"y":-524,"r":-65},{"p":"F3 High Antenna","x":200,"y":-531,"r":-72},{"p":"F3 High Antenna","x":166,"y":-535,"r":-71},{"p":"F3 High Antenna","x":132,"y":-539,"r":-73},{"p":"F3 High Antenna","x":98,"y":-542,"r":-70},
{"p":"F3 High Antenna","x":64,"y":-544,"r":-72},{"p":"F3 High Antenna","x":30,"y":-545,"r":-74},{"p":"F3 High Antenna","x":-4,"y":-545,"r":-66},{"p":"F3 High Antenna","x":-38,"y":-545,"r":-71},{"p":"F3 High Antenna","x":-72,"y":-544,"r":-73},{"p":"F3 High Antenna","x":-106,"y":-544,"r":-62},{"p":"F3 High Antenna","x":-117,"y":-560,"r":-73},{"p":"F3 High Antenna","x":-138,"y":-537,"r":-72},{"p":"F3 High Antenna","x":-160,"y":-540,"r":-70},{"p":"F3 High Antenna","x":-170,"y":-526,"r":-60},{"p":"F3 High Antenna","x":-200,"y":-524,"r":-72},{"p":"F3 High Antenna","x":-202,"y":-513,"r":-71},{"p":"F3 High Antenna","x":-234,"y":-500,"r":-57},
{"p":"F3 High Antenna","x":-266,"y":-489,"r":-74},{"p":"F3 High Antenna","x":-298,"y":-478,"r":-72},{"p":"F3 High Antenna","x":-330,"y":-467,"r":-73},{"p":"F3 High Antenna","x":-362,"y":-455,"r":-74},{"p":"F3 High Antenna","x":-388,"y":-436,"r":-58},{"p":"F3 High Antenna","x":-410,"y":-405,"r":-72},{"p":"F3 High Antenna","x":-424,"y":-380,"r":-73},{"p":"F3 High Antenna","x":-440,"y":-349,"r":-74},{"p":"F3 High Antenna","x":-455,"y":-319,"r":-72},{"p":"F3 High Antenna","x":-468,"y":-293,"r":-73},
{"p":"F3 High Antenna","x":-487,"y":-264,"r":-69},{"p":"F3 High Antenna","x":-512,"y":-231,"r":-72},{"p":"F3 High Antenna","x":-540,"y":-211,"r":-74},{"p":"F3 High Antenna","x":-566,"y":-189,"r":-71},{"p":"F3 High Antenna","x":-594,"y":-165,"r":-73},{"p":"F3 High Antenna","x":-608,"y":-137,"r":-72},{"p":"F3 High Antenna","x":-622,"y":-109,"r":-70},{"p":"F3 High Antenna","x":-633,"y":-65,"r":-74},{"p":"F3 High Antenna","x":-637,"y":-33,"r":-73},{"p":"F3 High Antenna","x":-639,"y":-2,"r":-64},

{"p":"L Low Antenna","t":"Average RSSI: -63.36"},{"p":"F1 Low Antenna","t":"Average RSSI: -67.61"},{"p":"F3 Low Antenna","t":"Average RSSI: -71.08"},{"p":"L High Antenna","t":"Average RSSI: -60.16"},{"p":"F1 High Antenna","t":"Average RSSI: -64.35"},{"p":"F3 High Antenna","t":"Average RSSI: -69.07"}
]},
"columns":3,
"facet":{"field":"p","type":"nominal","sort":["L Low Antenna","F1 Low Antenna","F3 Low Antenna","L High Antenna","F1 High Antenna","F3 High Antenna"],"header":{"title":null,"labelFont":"DejaVu Sans","labelFontSize":18,"labelColor":"#222","labelPadding":8}},
"spacing":{"row":29,"column":0},
"spec":{
"width":247,"height":222,
"layer":[
{"transform":[{"filter":"!isValid(datum.t)"},{"joinaggregate":[{"op":"mean","field":"r","as":"avg"}],"groupby":["p"]}],
"mark":{"type":"line","strokeWidth":5,"strokeCap":"round","strokeJoin":"round","invalid":"break-paths-filter-domains"},
"encoding":{
"x":{"field":"x","type":"quantitative","scale":{"domain":[-696,633],"nice":false,"zero":false},"axis":{"values":[-500,0,500]}},
"y":{"field":"y","type":"quantitative","scale":{"domain":[-607,610],"nice":false,"zero":false},"axis":{"values":[-600,-400,-200,0,200,400,600]}},
"stroke":{"field":"avg","type":"quantitative","scale":{"scheme":"plasma","domain":[-75.01,-54.99],"clamp":true},"legend":null},
"order":{"value":null}
}},
{"transform":[{"filter":"isValid(datum.r)"}],
"mark":{"type":"circle","size":32,"opacity":1},
"encoding":{
"x":{"field":"x","type":"quantitative"},
"y":{"field":"y","type":"quantitative"},
"color":{"field":"r","type":"quantitative","scale":{"scheme":"plasma","domain":[-75,-55],"clamp":true},
"legend":{"title":null,"type":"gradient","direction":"vertical","gradientLength":500,"gradientThickness":25,"values":[-75,-70,-65,-60,-55],"labelFont":"DejaVu Sans","labelFontSize":15,"labelColor":"#222","labelOffset":7,"offset":6,"gradientStrokeColor":"#333","gradientStrokeWidth":1,"gradientOpacity":0.9,"padding":0}}
}},
{"transform":[{"filter":"isValid(datum.t)"}],
"mark":{"type":"text","align":"left","baseline":"alphabetic","font":"DejaVu Sans","fontSize":15,"color":"#222"},
"encoding":{"x":{"datum":-500,"type":"quantitative"},"y":{"datum":0,"type":"quantitative"},"text":{"field":"t","type":"nominal"}}}
]},
"config":{
"view":{"stroke":"#1a1a1a","strokeWidth":1},
"axis":{"grid":false,"domain":false,"title":null,"labelFont":"DejaVu Sans","labelFontSize":15,"labelColor":"#222","tickColor":"#222","tickSize":5,"tickWidth":1,"labelPadding":3},
"legend":{"layout":{"right":{"anchor":"middle"}}}
}
}
